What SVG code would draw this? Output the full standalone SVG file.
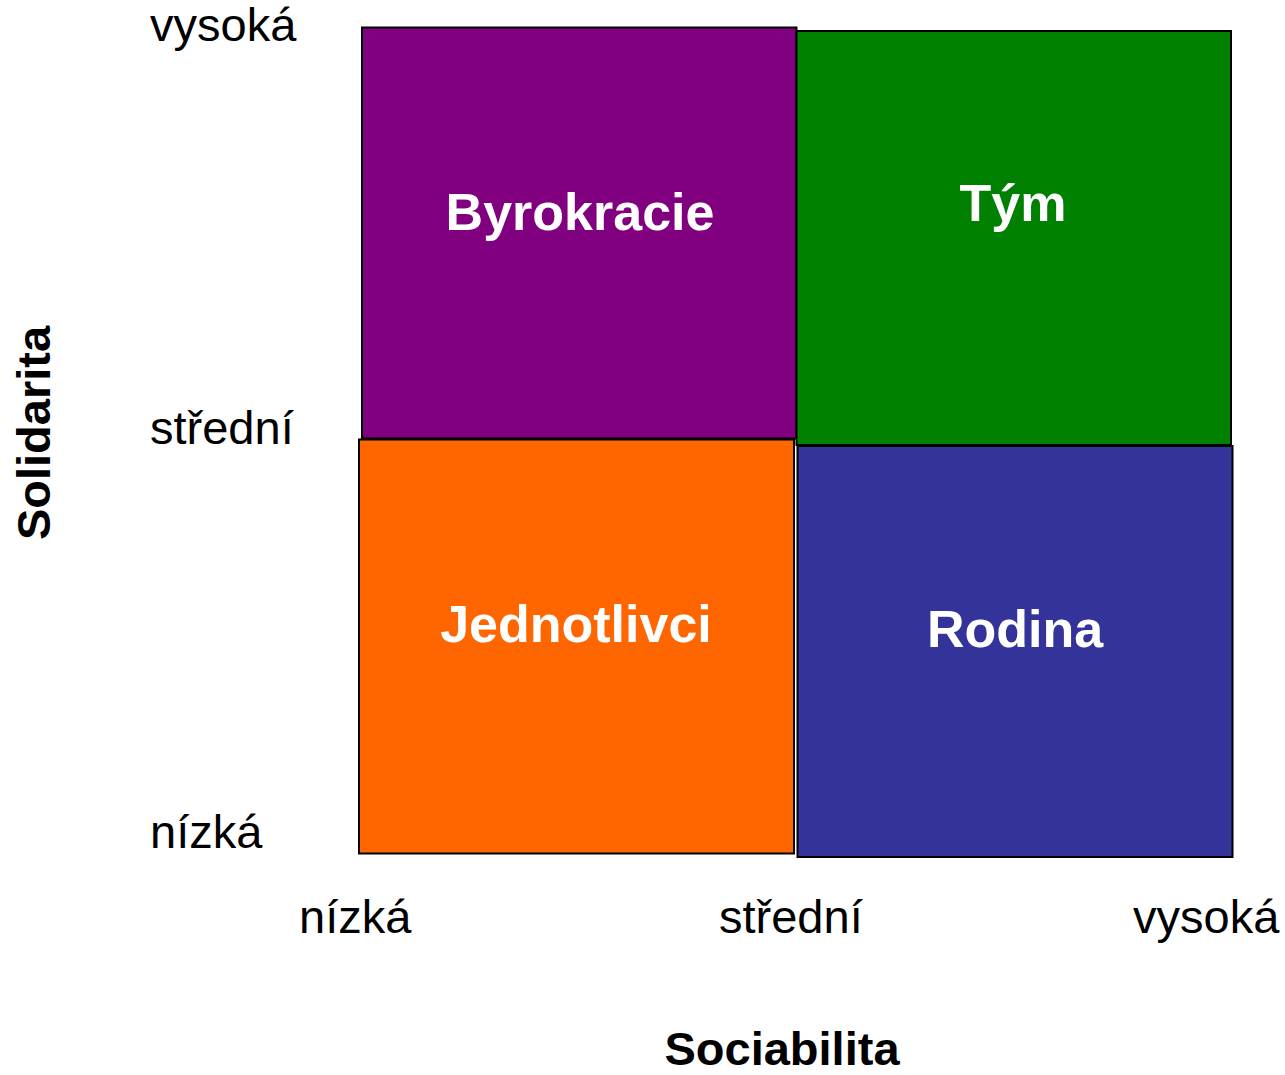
<svg xmlns="http://www.w3.org/2000/svg" width="1285" height="1075" viewBox="0 0 1285 1075">
<style>
.q{stroke:#000;stroke-width:2}
.lbl{font-family:"Liberation Sans",Arial,sans-serif;font-weight:bold;font-size:52px;fill:#fff;text-anchor:middle}
.ax{font-family:"Liberation Sans",Arial,sans-serif;font-size:47px;fill:#000}
.title{font-family:"Liberation Sans",Arial,sans-serif;font-weight:bold;font-size:47px;fill:#000;text-anchor:middle}
</style>
<rect width="1285" height="1075" fill="#fff"/>
<g id="byrokracie"><rect class="q" x="362" y="27.5" width="434.5" height="411" fill="#800080"/><text class="lbl" x="580" y="230">Byrokracie</text></g>
<g id="tym"><rect class="q" x="796.5" y="31" width="434.5" height="414" fill="#008000"/><text class="lbl" x="1013" y="221">Tým</text></g>
<g id="jednotlivci"><rect class="q" x="359" y="439.5" width="435" height="414" fill="#ff6600"/><text class="lbl" x="576" y="642">Jednotlivci</text></g>
<g id="rodina"><rect class="q" x="797.5" y="446" width="435" height="411" fill="#333399"/><text class="lbl" x="1015" y="647">Rodina</text></g>
<g id="axes">
<text class="ax" x="150" y="41">vysoká</text>
<text class="ax" x="150" y="444">střední</text>
<text class="ax" x="150" y="848">nízká</text>
<text class="ax" x="299" y="933">nízká</text>
<text class="ax" x="719" y="933">střední</text>
<text class="ax" x="1133" y="933">vysoká</text>
<text class="title" x="782" y="1065">Sociabilita</text>
<text class="title" transform="translate(50,433) rotate(-90)">Solidarita</text>
</g>
<g id="connectors"/>
</svg>
